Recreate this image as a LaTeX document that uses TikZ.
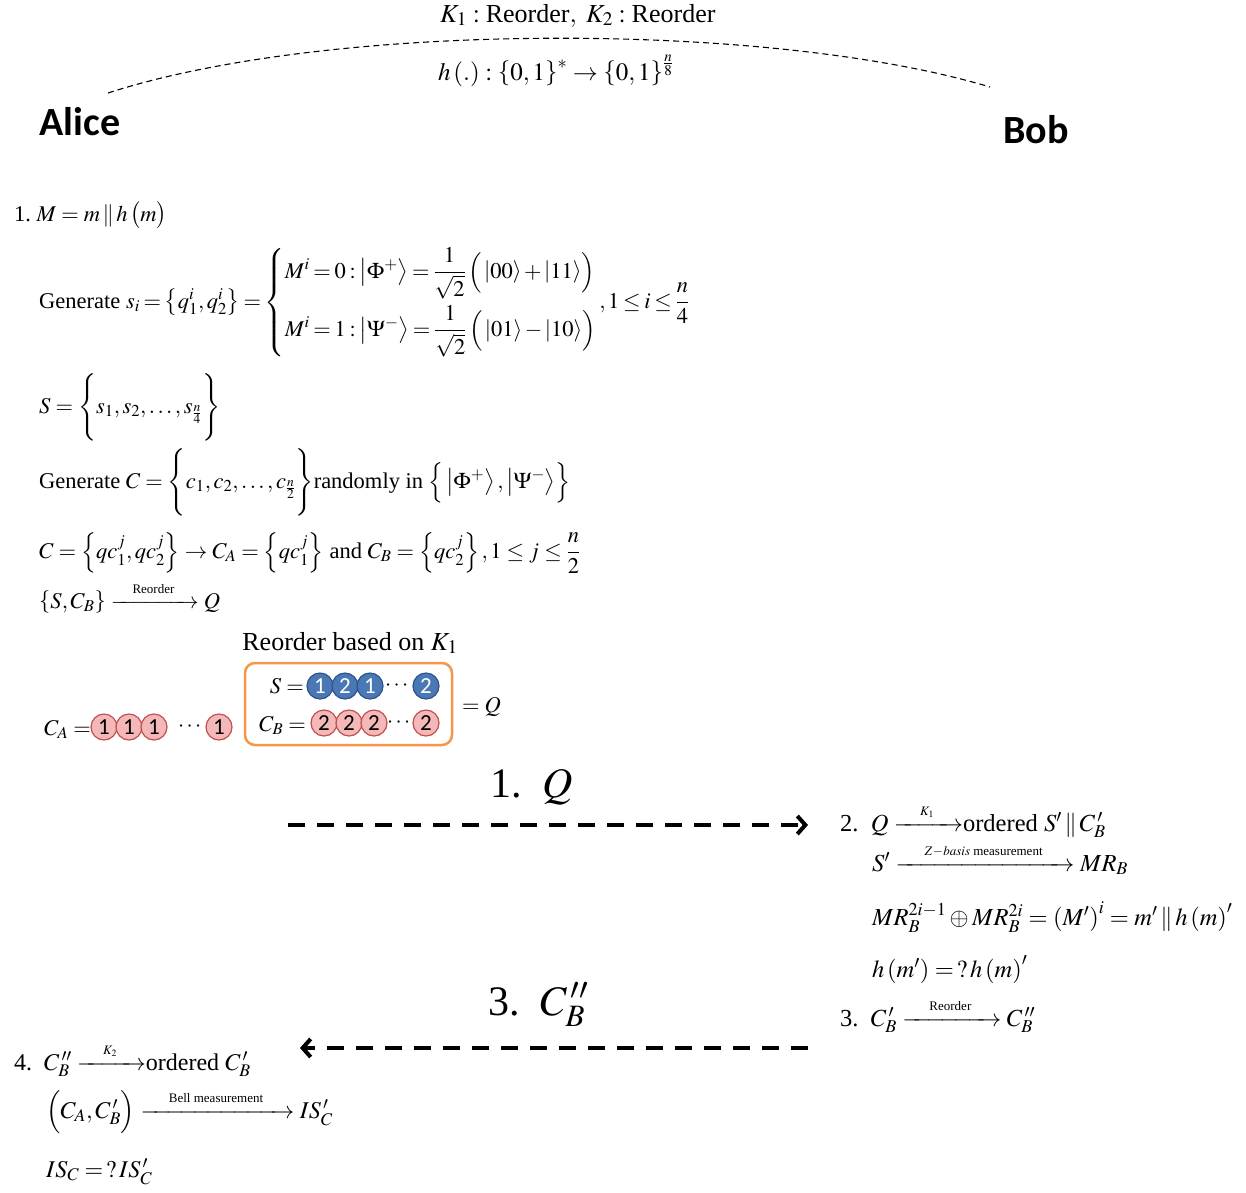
\documentclass[tikz,border=0pt]{standalone}
\usepackage{amsmath}
\usepackage{mathptmx}
\usepackage[no-math]{fontspec}
\setmainfont{Liberation Serif}
\newfontfamily\calib{Carlito}
\usetikzlibrary{arrows.meta}
\definecolor{orng}{HTML}{F79646}
\definecolor{qbf}{HTML}{4A78B5}
\definecolor{qbd}{HTML}{2F528F}
\definecolor{qrf}{HTML}{F4B8B8}
\definecolor{qrd}{HTML}{C0504D}
\newcommand\lbl[2]{\raisebox{1.5pt}{\makebox[#1]{\fontsize{13}{14}\selectfont #2}}}
\newcommand\xra[2]{\xrightarrow{\lbl{#1}{#2}}}
\newcommand\vstr[1]{\vcenter{\hbox{\rule{0pt}{#1}}}}
\tikzset{
  tx/.style={anchor=base west, inner sep=0pt, font=\fontsize{22.5}{26}\selectfont},
  rtx/.style={anchor=base west, inner sep=0pt, font=\fontsize{24.5}{28}\selectfont},
  btx/.style={anchor=base west, inner sep=0pt, font=\fontsize{24}{28}\selectfont},
  htx/.style={anchor=base west, inner sep=0pt, font=\fontsize{26}{30}\selectfont},
  bigtx/.style={anchor=base west, inner sep=0pt, font=\fontsize{42}{48}\selectfont},
  pname/.style={inner sep=0pt, font=\calib\bfseries\fontsize{40}{44}\selectfont},
  qcirc/.style={circle, line width=1.2pt, minimum size=26pt, inner sep=0pt, font=\calib\fontsize{23}{23}\selectfont},
  qb/.style={qcirc, draw=qbd, fill=qbf, text=white},
  qr/.style={qcirc, draw=qrd, fill=qrf, text=black},
  dots/.style={inner sep=0pt, font=\fontsize{22}{26}\selectfont},
  thindash/.style={line width=1.1pt, dash pattern=on 6pt off 4pt},
  bigdash/.style={line width=4pt, dash pattern=on 17pt off 12pt, -{Straight Barb[length=8pt,width=18pt]}},
}
\begin{document}
\begin{tikzpicture}[x=1pt,y=-1pt]
\useasboundingbox (0,0) rectangle (1246,1192);
% header
\node[htx] (keys) at (440,22) {$K_1:\text{Reorder},\ K_2:\text{Reorder}$};
\coordinate (arcL) at (108,93);
\coordinate (arcR) at (990,87);
\draw[thindash] (arcL) .. controls (330,21) and (770,21) .. (arcR);
\node[tx, font=\fontsize{25}{30}\selectfont] (hash) at (438,80) {$h\left(\vstr{24pt}.\right):\left\{\vstr{24pt}0,1\right\}^{*}\to\left\{\vstr{24pt}0,1\right\}^{\frac{n}{8}}$};
\node[pname] (alice) at (80,122) {Alice};
\node[pname] (bob) at (1036,130) {Bob};
% Alice step 1
\node[tx] (a1) at (14,221) {1.\ $M=m\,\|\,h\left(\vstr{26pt}m\right)$};
\node[tx] (a2) at (39,308) {\thickmuskip=3mu\medmuskip=2mu Generate $s_i=\left\{\vstr{28pt}q_1^i,q_2^i\right\}=\left\{\begin{array}{@{}l@{}} M^i=0:\left|\vstr{26pt}\Phi^+\right\rangle=\dfrac{1}{\sqrt{2}}\left(\vstr{30pt}\left|00\right\rangle+\left|11\right\rangle\right)\\[20pt] M^i=1:\left|\vstr{26pt}\Psi^-\right\rangle=\dfrac{1}{\sqrt{2}}\left(\vstr{30pt}\left|01\right\rangle-\left|10\right\rangle\right)\end{array}\right.,1\le i\le\dfrac{n}{4}$};
\node[tx] (a3) at (39,413) {$S=\left\{\vstr{62pt}s_1,s_2,\ldots,s_{\frac{n}{4}}\right\}$};
\node[tx] (a4) at (39,488) {Generate $C=\left\{\vstr{62pt}c_1,c_2,\ldots,c_{\frac{n}{2}}\right\}$randomly in $\left\{\vstr{30pt}\left|\vstr{26pt}\Phi^+\right\rangle,\left|\vstr{26pt}\Psi^-\right\rangle\right\}$};
\node[tx] (a5) at (39,558) {$C=\left\{qc_1^j,qc_2^j\right\}\to C_A=\left\{qc_1^j\right\}$ and $C_B=\left\{qc_2^j\right\},1\le j\le\dfrac{n}{2}$};
\node[tx] (a6) at (39,608) {$\left\{\vstr{22pt}S,C_B\right\}\xra{75pt}{Reorder}Q$};
\node[htx, anchor=base] (reord) at (350,650) {Reorder based on $K_1$};
% box
\node[draw=orng, line width=2.5pt, rounded corners=10pt, minimum width=207pt, minimum height=82pt, inner sep=0pt] (qbox) at (348.5,704) {};
\node[tx, anchor=base east] (slab) at (304,693) {$S=$};
\node[tx, anchor=base east] (cblab) at (306,731) {$C_B=$};
\node[tx] (eqq) at (462,712) {$=Q$};
\node[tx, anchor=base east] (calab) at (91,735) {$C_A=$};
% circles C_A
\node[qr] (ca1) at (104,727) {1};
\node[qr] (ca2) at (129,727) {1};
\node[qr] (ca3) at (154,727) {1};
\node[dots] (cad) at (191,727) {$\cdots$};
\node[qr] (ca4) at (219,727) {1};
% circles S
\node[qb] (s1) at (320,686) {1};
\node[qb] (s2) at (345,686) {2};
\node[qb] (s3) at (370,686) {1};
\node[dots] (sd) at (398,686) {$\cdots$};
\node[qb] (s4) at (426,686) {2};
% circles C_B
\node[qr] (cb1) at (324,723) {2};
\node[qr] (cb2) at (349,723) {2};
\node[qr] (cb3) at (374,723) {2};
\node[dots] (cbd) at (400,723) {$\cdots$};
\node[qr] (cb4) at (426,723) {2};
% transmissions
\node[bigtx] (m1) at (490,797) {1.\ \ $Q$};
\coordinate (q1s) at (288,825);
\coordinate (q1e) at (808,825);
\draw[bigdash] (q1s) -- (q1e);
\node[bigtx] (m3) at (488,1015) {3.\ \ $C_B^{\,\prime\prime}$};
\coordinate (q3s) at (808,1048);
\coordinate (q3e) at (300,1048);
\draw[bigdash] (q3s) -- (q3e);
% Bob
\node[rtx] (b1) at (840,831) {2.\ \ $Q\xra{55pt}{$K_1$}$ordered $S'\,\|\,C_B^{\,\prime}$};
\node[rtx] (b2) at (872,871) {$S'\xra{165pt}{$Z\!-\!basis$ measurement}MR_B$};
\node[rtx] (b3) at (872,925) {$MR_B^{2i-1}\oplus MR_B^{2i}=\left(\vstr{24pt}M'\right)^i=m'\,\|\,h\left(\vstr{24pt}m\right)'$};
\node[rtx] (b4) at (872,977) {$h\left(\vstr{24pt}m'\right)=\,?\,h\left(\vstr{24pt}m\right)'$};
\node[rtx] (b5) at (840,1026) {3.\ \ $C_B^{\,\prime}\xra{85pt}{Reorder}C_B^{\,\prime\prime}$};
% Alice step 4
\node[btx] (a7) at (14,1070) {4.\ \ $C_B^{\,\prime\prime}\xra{55pt}{$K_2$}$ordered $C_B^{\,\prime}$};
\node[btx] (a8) at (46,1118) {$\left(\vstr{36pt}C_A,C_B^{\,\prime}\right)\xra{140pt}{Bell measurement}IS_C^{\,\prime}$};
\node[btx] (a9) at (46,1177) {$IS_C=\,?\,IS_C^{\,\prime}$};
\end{tikzpicture}
\end{document}
